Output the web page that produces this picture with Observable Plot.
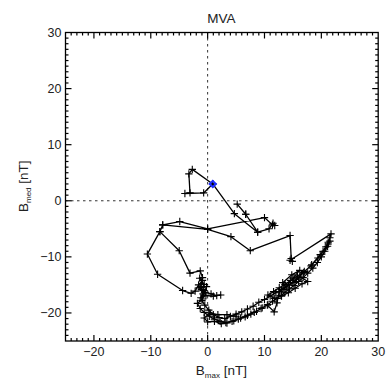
<!DOCTYPE html>
<html><head><meta charset="utf-8">
<style>html,body{margin:0;padding:0;background:#fff;} svg{display:block}</style>
<script src="https://cdn.jsdelivr.net/npm/d3@7"></script>
<script src="https://cdn.jsdelivr.net/npm/@observablehq/plot@0.6"></script>
</head><body><div id="chart"></div>
<script>
const titleText = "MVA";
const xLabelMain = "B", xLabelSub = "max";
const yLabelMain = "B", yLabelSub = "med";
const unitText = "[nT]";
const majorTicks = [-20, -10, 0, 10, 20, 30];
const minorTicks = d3.range(-24, 30);

// trajectory (B_max, B_med) in nT
const bx = [0.9,-2.7,-3.3,-3.1,-4.0,-0.7,0.9,4.7,8.8,6.7,5.2,6.7,8.8,10.8,11.5,11.8,11.4,10.0,0.0,-4.9,-7.9,-8.4,-10.6,-8.8,-4.4,-2.9,
 -2.2,-1.6,-0.9,-1.4,-0.6,-1.1,-0.4,0.6,1.6,2.3,1.0,-0.3,-1.2,-0.7,-1.5,-0.2,-0.9,-1.8,-1.3,-0.6,0.3,1.2,2.2,3.2,4.3,5.4,6.6,7.6,8.6,9.6,10.6,11.4,12.2,12.9,13.6,14.4,15.2,16.0,16.8,17.6,18.5,19.3,20.0,20.6,21.1,21.5,21.2,
 19.8,18.3,16.9,15.6,14.3,13.0,12.0,11.0,10.0,9.0,8.0,7.0,6.0,5.0,4.0,3.0,2.0,1.0,0.2,-0.5,-1.0,-0.8,-1.2,-0.9,
 -1.3,-3.1,-5.0,-8.4,-7.9,0.0,4.1,7.5,14.5,14.7,14.9,14.5,21.7,21.5,21.2,20.8,20.3,19.4,18.2,17.0,15.8,14.6,13.6,12.6,11.6,10.6,
 11.8,13.0,14.2,15.4,16.6,17.6,16.4,15.0,13.8,13.2,14.8,16.2,15.0,13.4,12.6,12.2,11.7,10.5,9.4,8.2,7.0,5.8,4.6,3.4,2.4,1.2,0.0,-0.6,0.4,1.8,3.4,5.0];
const by = [3.0,5.6,4.8,1.4,1.3,1.4,3.0,-2.3,-5.6,-2.4,-0.6,-2.4,-5.6,-5.0,-4.0,-4.4,-4.3,-3.0,-5.0,-3.7,-4.3,-5.5,-9.5,-13.1,-16.0,-16.5,
 -16.1,-15.0,-14.2,-13.8,-14.9,-15.8,-16.3,-16.6,-16.9,-16.8,-17.0,-16.9,-17.3,-16.0,-15.5,-15.3,-17.5,-18.3,-19.2,-19.9,-20.6,-21.1,-21.5,-21.7,-21.5,-21.1,-20.7,-20.2,-19.7,-19.1,-18.5,-17.9,-17.4,-16.9,-16.3,-15.7,-15.1,-14.4,-13.7,-12.9,-12.0,-11.0,-10.0,-9.0,-8.1,-7.2,-7.7,
 -9.6,-11.4,-12.8,-14.0,-15.0,-15.8,-16.4,-17.0,-17.6,-18.1,-18.8,-19.3,-19.8,-20.2,-20.6,-21.0,-20.8,-20.3,-19.5,-18.6,-17.8,-16.6,-15.3,-13.7,
 -12.5,-12.9,-8.9,-5.5,-4.3,-5.1,-6.4,-8.9,-6.2,-10.3,-10.8,-10.6,-5.9,-6.6,-7.4,-8.2,-9.0,-10.2,-11.6,-12.6,-13.4,-14.2,-14.9,-15.5,-16.2,-16.8,
 -17.4,-17.0,-16.4,-15.6,-14.8,-14.4,-13.6,-14.6,-15.4,-14.6,-13.2,-12.4,-13.8,-15.8,-16.2,-18.2,-19.8,-18.6,-19.2,-19.9,-20.4,-20.9,-21.4,-21.8,-21.9,-21.5,-21.6,-20.9,-20.0,-20.3,-20.3,-20.6];

const markerX = [0.9], markerY = [3.0];

const pts = bx.map((x, i) => ({bmax: x, bmed: by[i]}));
const marker = markerX.map((x, i) => ({bmax: x, bmed: markerY[i]}));

const W = 386, H = 381, ML = 65, MR = 8.3, MT = 32, MB = 40.5;
const FW = W - ML - MR, FH = H - MT - MB;
const xDom = [-25, 30], yDom = [-25, 30];
// tick lengths in pixels, converted to data units for each axis
const majorLen = 6, minorLen = 3;
const ux = (xDom[1] - xDom[0]) / FW, uy = (yDom[1] - yDom[0]) / FH;
const tickRows = minorTicks.map(t => ({t, len: majorTicks.includes(t) ? majorLen : minorLen}));

const tickStyle = {stroke: "#000", strokeWidth: 1.2};
const chart = Plot.plot({
  width: W, height: H,
  marginLeft: ML, marginRight: MR, marginTop: MT, marginBottom: MB,
  x: {domain: xDom, label: null},
  y: {domain: yDom, label: null},
  style: {fontFamily: "'Liberation Sans', Arial, sans-serif", fontSize: "12.5px", color: "#222", background: "#fff"},
  marks: [
    Plot.ruleX([0], {stroke: "#333", strokeDasharray: "2.5,3.5"}),
    Plot.ruleY([0], {stroke: "#333", strokeDasharray: "2.5,3.5"}),
    Plot.line(pts, {x: "bmax", y: "bmed", stroke: "black", strokeWidth: 1.3}),
    Plot.dot(pts, {x: "bmax", y: "bmed", symbol: "plus", r: 2.5, stroke: "black", strokeWidth: 1.1}),
    Plot.dot(marker, {x: "bmax", y: "bmed", symbol: "diamond2", r: 2.8, stroke: "#1f2fff", strokeWidth: 2}),
    Plot.frame({stroke: "black", strokeWidth: 1.3}),
    // inward ticks on all four sides, drawn through the x and y scales
    Plot.link(tickRows, {x1: "t", x2: "t", y1: () => yDom[0], y2: d => yDom[0] + d.len * uy, ...tickStyle}),
    Plot.link(tickRows, {x1: "t", x2: "t", y1: () => yDom[1], y2: d => yDom[1] - d.len * uy, ...tickStyle}),
    Plot.link(tickRows, {y1: "t", y2: "t", x1: () => xDom[0], x2: d => xDom[0] + d.len * ux, ...tickStyle}),
    Plot.link(tickRows, {y1: "t", y2: "t", x1: () => xDom[1], x2: d => xDom[1] - d.len * ux, ...tickStyle}),
    Plot.axisX(majorTicks, {anchor: "bottom", tickSize: 0, tickPadding: 6, label: null}),
    Plot.axisY(majorTicks, {anchor: "left", tickSize: 0, tickPadding: 4, label: null})
  ]
});

const svg = d3.select(chart);
const cx = ML + FW / 2;
const cy = MT + FH / 2;
svg.append("text").attr("x", cx).attr("y", 23).attr("text-anchor", "middle")
  .attr("font-size", 13.5).attr("fill", "#222").text(titleText);

const xl = svg.append("text").attr("x", cx).attr("y", 375).attr("text-anchor", "middle")
  .attr("font-size", 13.5).attr("fill", "#222");
xl.append("tspan").text(xLabelMain);
xl.append("tspan").attr("font-size", 8).attr("dy", 3).text(xLabelSub);
xl.append("tspan").attr("dy", -3).text("\u00a0" + unitText);

const yl = svg.append("text").attr("transform", `translate(28,${cy}) rotate(-90)`).attr("text-anchor", "middle")
  .attr("font-size", 13.5).attr("fill", "#222");
yl.append("tspan").text(yLabelMain);
yl.append("tspan").attr("font-size", 8).attr("dy", 3).text(yLabelSub);
yl.append("tspan").attr("dy", -3).text("\u00a0" + unitText);

document.getElementById("chart").appendChild(chart);
</script>
</body></html>
